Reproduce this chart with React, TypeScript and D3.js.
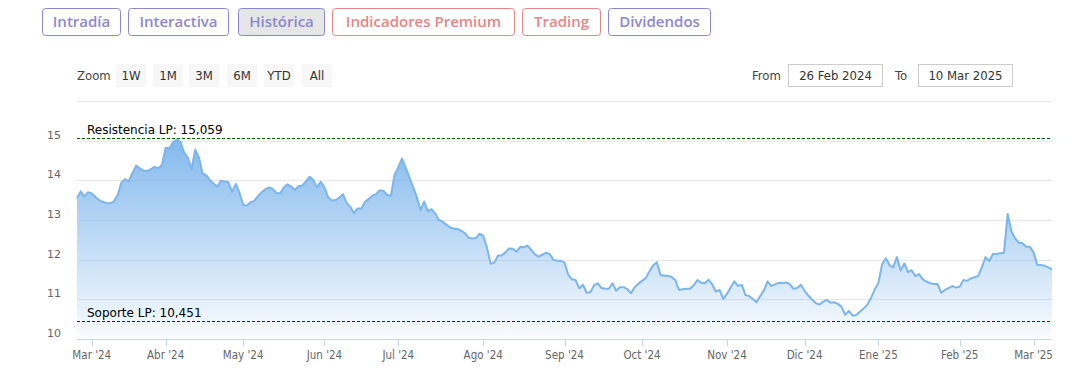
import React from "react";
import * as d3 from "d3";

// ---------- DATA ----------
const START_DATE = "2024-02-26";
const END_DATE = "2025-03-10";
const HOLIDAYS = ["2024-03-29", "2024-04-01", "2024-05-01", "2024-12-25", "2024-12-26", "2025-01-01"];
const MONTHS_ES = ["Ene", "Feb", "Mar", "Abr", "May", "Jun", "Jul", "Ago", "Sep", "Oct", "Nov", "Dic"];

const closeValues = [
  13.55, 13.72, 13.59, 13.70, 13.67, 13.58, 13.50, 13.45, 13.43, 13.42,
  13.47, 13.62, 13.94, 14.03, 13.98, 14.18, 14.37, 14.30, 14.25, 14.23,
  14.28, 14.34, 14.30, 14.39, 14.82, 14.81, 14.96, 15.03, 14.97, 14.70,
  14.58, 14.28, 14.77, 14.58, 14.17, 14.13, 14.00, 13.92, 13.84, 13.99,
  13.97, 13.95, 13.71, 13.91, 13.68, 13.38, 13.36, 13.45, 13.48, 13.60,
  13.70, 13.77, 13.82, 13.78, 13.68, 13.67, 13.82, 13.90, 13.84, 13.76,
  13.85, 13.87, 13.97, 14.09, 14.01, 13.82, 13.96, 13.82, 13.57, 13.49,
  13.50, 13.56, 13.65, 13.43, 13.33, 13.17, 13.29, 13.29, 13.46, 13.53,
  13.62, 13.65, 13.75, 13.73, 13.63, 13.61, 14.15, 14.33, 14.55, 14.32,
  14.07, 13.83, 13.58, 13.25, 13.46, 13.22, 13.27, 13.16, 13.00, 12.95,
  12.88, 12.81, 12.78, 12.77, 12.73, 12.67, 12.55, 12.53, 12.54, 12.65,
  12.60, 12.30, 11.89, 11.92, 12.10, 12.10, 12.18, 12.28, 12.27, 12.20,
  12.32, 12.31, 12.35, 12.24, 12.13, 12.07, 12.12, 12.17, 12.14, 11.99,
  11.97, 11.97, 11.92, 11.62, 11.50, 11.48, 11.27, 11.36, 11.16, 11.17,
  11.35, 11.40, 11.28, 11.26, 11.26, 11.40, 11.21, 11.30, 11.30, 11.25,
  11.15, 11.30, 11.39, 11.46, 11.53, 11.70, 11.85, 11.93, 11.61, 11.59,
  11.59, 11.56, 11.48, 11.23, 11.25, 11.26, 11.26, 11.35, 11.48, 11.41,
  11.40, 11.49, 11.37, 11.19, 11.23, 11.00, 11.13, 11.30, 11.45, 11.33,
  11.36, 11.10, 11.08, 11.00, 10.92, 11.08, 11.22, 11.45, 11.33, 11.37,
  11.41, 11.40, 11.42, 11.38, 11.26, 11.28, 11.36, 11.21, 11.09, 10.99,
  10.90, 10.86, 10.93, 10.98, 10.91, 10.92, 10.88, 10.81, 10.60, 10.70,
  10.58, 10.60, 10.68, 10.76, 10.86, 11.03, 11.24, 11.41, 11.88, 12.03,
  11.86, 11.80, 12.06, 11.72, 11.90, 11.68, 11.73, 11.58, 11.63, 11.50,
  11.44, 11.40, 11.38, 11.38, 11.16, 11.23, 11.28, 11.33, 11.29, 11.31,
  11.48, 11.46, 11.52, 11.55, 11.58, 11.80, 12.06, 11.96, 12.14, 12.14,
  12.16, 12.17, 13.15, 12.72, 12.53, 12.43, 12.41, 12.32, 12.32, 12.18,
  11.87, 11.86, 11.84, 11.80, 11.75,
];

const RESISTANCE = 15.059;
const SUPPORT = 10.451;
const RESISTANCE_LABEL = "Resistencia LP: 15,059";
const SUPPORT_LABEL = "Soporte LP: 10,451";

const yGridValues = [10, 11, 12, 13, 14, 15, 16];
const yLabelValues = [10, 11, 12, 13, 14, 15];

const topTabs = ["Intradía", "Interactiva", "Histórica", "Indicadores Premium", "Trading", "Dividendos"];
const topTabKinds = ["purple", "purple", "active", "salmon", "salmon", "purple"];
const zoomButtons = ["1W", "1M", "3M", "6M", "YTD", "All"];
const FROM_TEXT = "26 Feb 2024";
const TO_TEXT = "10 Mar 2025";

// ---------- HELPERS ----------
function tradingDays(): Date[] {
  const out: Date[] = [];
  const hol = new Set(HOLIDAYS);
  const d = new Date(START_DATE + "T00:00:00Z");
  const end = new Date(END_DATE + "T00:00:00Z");
  while (d <= end) {
    const wd = d.getUTCDay();
    const iso = d.toISOString().slice(0, 10);
    if (wd !== 0 && wd !== 6 && !hol.has(iso)) out.push(new Date(d));
    d.setUTCDate(d.getUTCDate() + 1);
  }
  return out;
}

export default function App() {
  const W = 1079;
  const H = 382;
  const left = 77;
  const right = 1052;
  const dates = tradingDays();
  const n = Math.min(dates.length, closeValues.length);
  const data = closeValues.slice(0, n).map((v, i) => ({ i, v, d: dates[i] }));

  const x = d3.scaleLinear().domain([0, n - 1]).range([left, right]);
  const y = d3.scaleLinear().domain([10, 16]).range([338.7, 101.1]);

  const ticks: { i: number; label: string }[] = [];
  for (let i = 1; i < n; i++) {
    if (data[i].d.getUTCMonth() !== data[i - 1].d.getUTCMonth()) {
      const dt = data[i].d;
      ticks.push({ i, label: `${MONTHS_ES[dt.getUTCMonth()]} '${String(dt.getUTCFullYear()).slice(2)}` });
    }
  }

  const area = d3
    .area<{ i: number; v: number }>()
    .x((p) => x(p.i))
    .y0(y(10))
    .y1((p) => y(p.v));
  const line = d3
    .line<{ i: number; v: number }>()
    .x((p) => x(p.i))
    .y((p) => y(p.v));

  const condensed = "'DejaVu Sans Condensed', 'DejaVu Sans', sans-serif";
  const verdana = "'DejaVu Sans', Verdana, sans-serif";

  const tabX = [42, 128, 238, 332, 522, 608];
  const tabW = [78, 100, 86, 182, 78, 102];
  const purple = "#8c87cf";
  const salmon = "#e98585";

  const zoomX = [116, 153, 189, 227, 264, 302];

  return (
    <svg width={W} height={H} style={{ position: "absolute", left: 0, top: 0, background: "#fff" }}>
      <defs>
        <linearGradient id="areaGrad" gradientUnits="userSpaceOnUse" x1="0" y1={y(15.05)} x2="0" y2={y(10)}>
          <stop offset="0" stopColor="rgb(124,181,236)" stopOpacity={0.95} />
          <stop offset="1" stopColor="rgb(124,181,236)" stopOpacity={0.04} />
        </linearGradient>
      </defs>

      {topTabs.map((t, k) => {
        const kind = topTabKinds[k];
        const col = kind === "salmon" ? salmon : purple;
        return (
          <g key={t}>
            <rect
              x={tabX[k] + 0.5}
              y={8.5}
              width={tabW[k]}
              height={27}
              rx={3}
              fill={kind === "active" ? "#e6e6e6" : "#fff"}
              stroke={col}
              strokeWidth={1}
            />
            <text
              x={tabX[k] + tabW[k] / 2 + 0.5}
              y={27}
              textAnchor="middle"
              fontFamily="'Open Sans', 'Noto Sans', sans-serif"
              fontWeight={600}
              fontSize={15}
              fill={col}
            >
              {t}
            </text>
          </g>
        );
      })}

      <text x={77} y={80} fontFamily={condensed} fontSize={13} fill="#444">
        Zoom
      </text>
      {zoomButtons.map((b, k) => (
        <g key={b}>
          <rect x={zoomX[k]} y={64} width={30} height={23} fill="#f7f7f7" />
          <text x={zoomX[k] + 15} y={80} textAnchor="middle" fontFamily={condensed} fontSize={13} fill="#333">
            {b}
          </text>
        </g>
      ))}
      <text x={752} y={80} fontFamily={condensed} fontSize={13} fill="#444">
        From
      </text>
      <rect x={788.5} y={64.5} width={94} height={22} fill="#fff" stroke="#cccccc" />
      <text x={835.5} y={80} textAnchor="middle" fontFamily={condensed} fontSize={13} fill="#333">
        {FROM_TEXT}
      </text>
      <text x={895} y={80} fontFamily={condensed} fontSize={13} fill="#444">
        To
      </text>
      <rect x={918.5} y={64.5} width={94} height={22} fill="#fff" stroke="#cccccc" />
      <text x={965.5} y={80} textAnchor="middle" fontFamily={condensed} fontSize={13} fill="#333">
        {TO_TEXT}
      </text>

      {yGridValues.map((v) => (
        <line
          key={v}
          x1={left}
          x2={right}
          y1={Math.round(y(v)) + 0.5}
          y2={Math.round(y(v)) + 0.5}
          stroke={v === 10 ? "#ccd6eb" : "#e6e6e6"}
          strokeWidth={1}
        />
      ))}
      {yLabelValues.map((v) => (
        <text key={v} x={61} y={y(v) - 2} textAnchor="end" fontFamily={verdana} fontSize={11} fill="#666">
          {v}
        </text>
      ))}

      <path d={area(data) || ""} fill="url(#areaGrad)" />
      <path d={line(data) || ""} fill="none" stroke="#7cb5ec" strokeWidth={2} strokeLinejoin="round" />

      <line
        x1={left}
        x2={right}
        y1={Math.round(y(RESISTANCE)) + 0.5}
        y2={Math.round(y(RESISTANCE)) + 0.5}
        stroke="#006400"
        strokeDasharray="3,2"
      />
      <text x={87} y={y(RESISTANCE) - 4} fontFamily={verdana} fontSize={12} fill="#000">
        {RESISTANCE_LABEL}
      </text>
      <line
        x1={left}
        x2={right}
        y1={Math.round(y(SUPPORT)) + 0.5}
        y2={Math.round(y(SUPPORT)) + 0.5}
        stroke="#8b0000"
        strokeDasharray="3,2"
      />
      <text x={87} y={y(SUPPORT) - 4} fontFamily={verdana} fontSize={12} fill="#000">
        {SUPPORT_LABEL}
      </text>

      {ticks.map((t) => (
        <g key={t.i}>
          <line
            x1={Math.round(x(t.i)) + 0.5}
            x2={Math.round(x(t.i)) + 0.5}
            y1={339}
            y2={346}
            stroke="#ccd6eb"
          />
          <text x={x(t.i)} y={359} textAnchor="middle" fontFamily={condensed} fontSize={11.5} fill="#666">
            {t.label}
          </text>
        </g>
      ))}
    </svg>
  );
}
